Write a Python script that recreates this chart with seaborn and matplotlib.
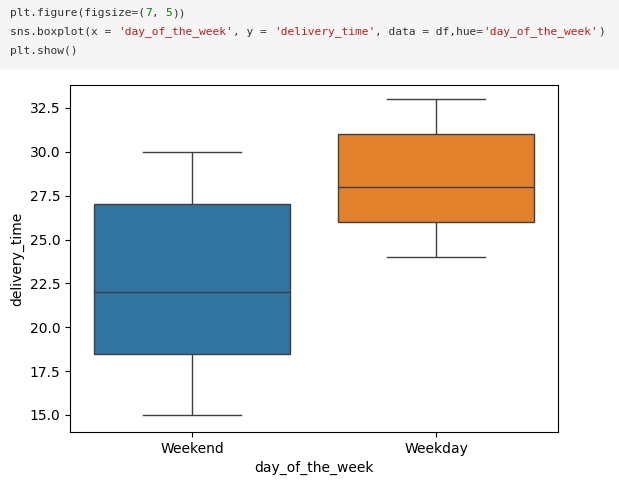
import matplotlib
matplotlib.use("Agg")
import matplotlib.pyplot as plt
import seaborn as sns
import pandas as pd

# five values per day so the quartiles land on the drawn box edges
weekend_times = [15, 18.5, 22, 27, 30]
weekday_times = [24, 26, 28, 31, 33]
days = ["Weekend"] * len(weekend_times) + ["Weekday"] * len(weekday_times)

df = pd.DataFrame({"day_of_the_week": days,
                   "delivery_time": weekend_times + weekday_times})

fig = plt.figure(figsize=(6.19, 4.87), dpi=100)

# notebook code cell on top
fig.patches.append(plt.Rectangle((0, 1 - 68 / 487), 1, 68 / 487, transform=fig.transFigure,
                                 color="#f5f5f5", zorder=0))
code_lines = [
    [("plt.figure(figsize=(", "#333333"), ("7", "#008000"), (", ", "#333333"), ("5", "#008000"), ("))", "#333333")],
    [("sns.boxplot(x = ", "#333333"), ("'day_of_the_week'", "#BA2121"), (", y = ", "#333333"),
     ("'delivery_time'", "#BA2121"), (", data = df,hue=", "#333333"), ("'day_of_the_week'", "#BA2121"), (")", "#333333")],
    [("plt.show()", "#333333")],
]
char_w = 6.76 / 619
for i, line in enumerate(code_lines):
    y = 1 - (13 + i * 19) / 487
    x = 10 / 619
    for txt, col in line:
        fig.text(x, y, txt, family="DejaVu Sans Mono", fontsize=8.1, color=col, va="center")
        x += len(txt) * char_w

ax = fig.add_axes([70 / 619, 1 - 432 / 487, (558 - 70) / 619, (432 - 85) / 487])
sns.boxplot(x="day_of_the_week", y="delivery_time", data=df, hue="day_of_the_week", ax=ax)
ax.set_ylim(14.03, 33.81)
ax.set_yticks([15, 17.5, 20, 22.5, 25, 27.5, 30, 32.5])

fig.savefig("out.png", dpi=100)
